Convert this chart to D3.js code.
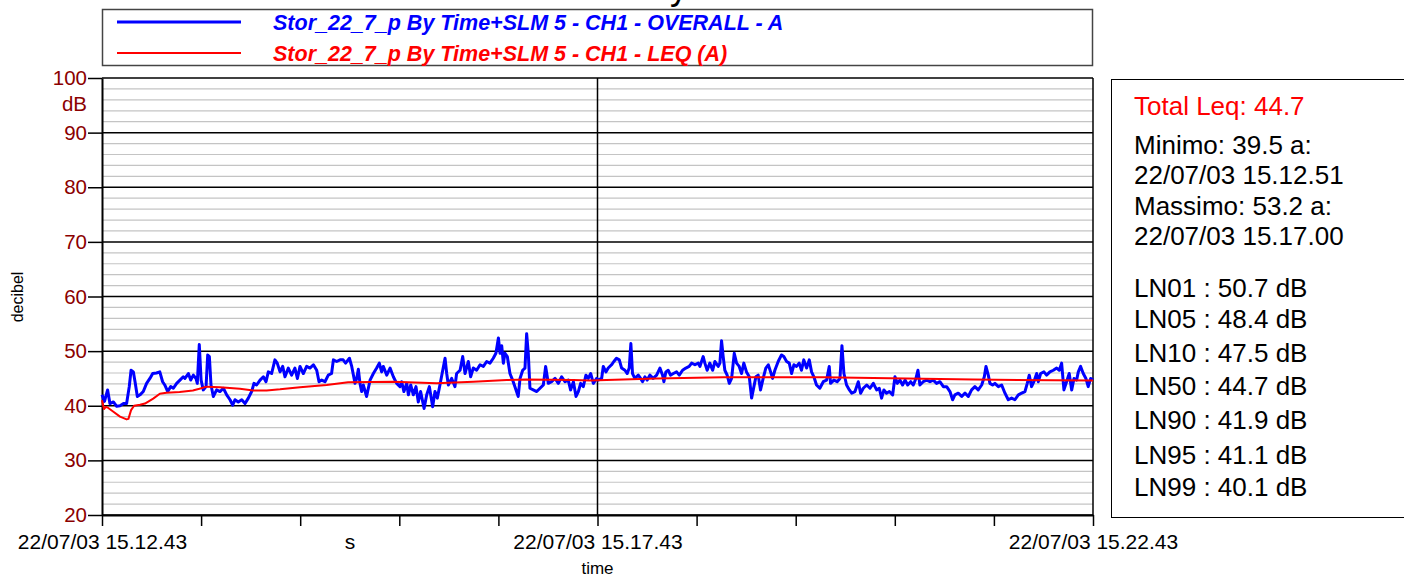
<!DOCTYPE html>
<html>
<head>
<meta charset="utf-8">
<script src="https://cdn.jsdelivr.net/npm/d3@7"></script>
<style>
  body { margin: 0; background: #fff; }
  svg { display: block; font-family: "Liberation Sans", Arial, sans-serif; }
</style>
</head>
<body>
<svg id="chart" width="1404" height="577"></svg>
<script>
// OVERALL - A, seconds from 15.12.43
const overallSec = [0,1.5,3.4,4.8,6.9,8.9,10.9,13,14.9,16.5,17.6,19,20,21.4,23,25,27,29,30.7,33,35,36.7,38,39.8,41.6,43.2,45.2,47.2,49.2,50.2,52.3,53.7,55.3,56.9,57.7,58.9,60,61.3,63,64,65,66,67.4,69.4,71.4,73.5,75.5,77.5,79.1,80.5,82.5,84.6,86.6,88.6,90.6,92,93.6,95.7,97.7,99.3,100.7,102.7,104.7,106.1,107.8,109.4,110.8,112.8,114.8,116.8,118.3,119.9,121.9,123.9,125.9,128,130,131.4,133,135,137,139,140.1,142.1,144.1,146,147.5,149.8,151.2,153.2,154.2,155.2,156.2,157.2,158.2,160.2,162.3,164.3,166.3,167.9,169.3,170.3,172.4,174.4,176.4,178.4,180.4,181.4,182.8,184.5,185.5,186.9,188.5,190.1,191.5,192.9,195,196.6,198.2,200.2,201.6,203,204.6,206.3,207.7,208.7,209.7,211.7,213.7,214.7,216.8,218.4,219.8,221.8,223.2,224.8,226.8,228.9,230.9,232.9,234.9,236.9,238.5,240,241,242,243,244,245.4,247,248.6,250,252,253.1,254.7,256.1,257.1,258.1,259.1,261.1,263.2,265.2,267.2,268.6,270.2,272.2,274.3,276.3,278.3,280.3,282.3,283.7,285.4,287,288.4,289.8,291.4,293,294.4,295.9,297.5,299.5,300.4,302.5,303.5,305.1,306.5,308.5,309.9,311.5,313.2,314.6,316.6,318,319.2,320.2,321.2,322.6,324.7,326.1,327.3,328.7,330.1,331.7,333.7,335.8,337.8,339.4,340.2,341.4,342.8,344.2,345.9,347.9,349.5,351.5,353.5,355.5,357,359,361,362,364,365,366.4,368,369.7,371.1,373.1,374.1,375.1,376.1,377.1,378.5,379.8,381.2,382.8,384.2,385.8,387.2,388.6,390.2,391.9,393.3,394.7,395.9,397.3,398.7,400.3,401.9,403.4,404.8,406,407.4,409.4,411.4,412.8,414.5,416.1,417.5,418.9,420.5,422.1,423.5,424.9,426.6,428.2,429.6,431,432.6,434.6,436.7,438.7,440.3,441.1,443.1,445.1,446.8,448,449.2,450.8,452.5,453.9,455.9,457.9,459.3,460.9,463,465,467,469,470.6,472,473.4,475,476.7,478.7,480.1,481.5,483.1,484.7,486.2,487.8,489.6,491.2,492.8,494,495.2,497.2,499.3,501.3,503.3,505.3,507.3,509.4,511.4,513.4,515,516.4,518.4,520.5,522.5,524.5,526.5,528.5,530.5,532.6,534.2,535.2,536.6,537.6,539.2,540.6,542.7,544.7,546.7,548.7,550.7,552.7,554.8,556.8,558.8,560.2,561.4,562.8,564.2,565.9,566.9,568.3,570.3,571.9,573.9,576,578,579.6,581,582.4,584,585.6,587.1,588.5,590.1,591.1,592.5,594.1,595.7,597.1,598.6,600];
const overallDb = [42.0,40.8,42.9,40.4,40.7,39.9,40.0,40.4,40.4,43.5,46.5,46.2,44.4,41.7,42.0,42.6,44.1,45.0,45.9,46.0,46.2,44.4,43.8,42.6,43.5,43.2,44.1,44.7,45.3,45.0,45.9,44.7,45.6,45.0,44.1,51.2,44.7,42.9,43.5,49.3,49.0,43.8,41.7,42.9,42.6,43.2,42.0,41.1,40.1,41.1,40.7,41.1,40.4,41.4,42.6,44.1,43.8,44.7,45.3,44.4,46.2,45.9,48.4,47.8,46.2,47.2,45.3,46.9,45.6,46.9,45.0,47.2,45.9,47.2,46.9,47.5,46.5,44.4,44.7,44.4,45.6,45.9,48.4,48.1,48.4,48.4,47.8,48.7,47.2,44.1,45.0,46.7,44.1,42.6,43.8,41.7,44.7,45.9,46.9,47.8,46.2,47.2,45.6,46.9,45.3,44.1,43.5,44.4,42.6,44.1,42.0,43.8,42.0,43.5,40.7,42.6,39.5,42.0,43.5,39.8,42.6,41.4,43.8,46.5,48.7,45.9,43.8,45.0,43.5,45.9,46.5,49.0,45.9,48.1,45.3,46.9,46.5,47.5,47.2,48.1,47.8,48.7,49.6,52.4,49.6,51.0,47.8,49.6,49.0,45.9,44.7,43.5,41.7,45.0,46.5,46.9,53.2,49.6,43.2,42.9,42.6,43.2,43.8,47.2,44.1,44.4,45.0,44.1,45.3,44.4,44.7,42.9,44.4,41.7,42.6,44.1,43.5,45.6,45.0,45.9,44.1,45.0,44.7,45.0,47.2,46.2,46.9,47.5,48.1,48.7,48.4,46.9,46.5,45.9,46.9,51.4,45.9,45.0,45.6,45.0,44.4,45.3,44.7,45.6,45.0,45.6,46.9,45.6,44.4,46.2,46.5,45.6,45.9,46.2,45.6,46.5,46.9,47.2,47.8,47.5,47.8,47.2,49.0,47.8,46.5,47.8,46.5,48.1,47.2,47.8,51.9,49.0,46.5,45.6,44.1,45.0,49.6,47.8,47.2,45.9,47.8,46.2,45.3,41.4,43.5,45.3,45.6,42.9,45.0,46.9,47.5,46.2,45.0,46.5,48.1,49.3,49.0,48.1,47.8,45.9,47.5,47.2,47.8,46.5,48.4,46.9,48.4,46.2,45.3,43.8,43.2,44.4,44.7,47.2,44.1,44.7,44.4,45.0,51.0,45.9,43.8,42.9,42.3,42.6,44.4,42.3,43.2,43.8,43.2,44.1,42.9,43.2,41.4,42.9,42.3,42.6,42.0,45.3,44.1,44.7,43.8,44.7,43.8,44.4,43.8,45.0,46.5,43.8,44.4,44.7,44.4,44.7,44.1,44.4,43.5,43.5,42.6,41.1,42.0,42.3,41.7,42.3,41.7,42.9,43.5,42.9,43.8,45.3,47.2,45.6,44.1,43.8,44.1,43.5,43.8,42.3,41.1,41.4,41.1,42.0,42.3,42.6,44.1,45.6,43.5,44.4,45.9,44.4,45.9,46.2,45.6,46.2,46.5,46.9,46.5,47.8,42.9,44.4,45.9,42.9,45.0,44.7,46.2,47.2,45.9,45.0,43.5,45.0,44.7];

// LEQ (A)
const leqSec = [0,1.2,2.4,3.8,6.9,10.9,14.9,16,17.6,19.4,23,26,31,35,39,47,55,59,63.3,71.4,83.5,91.6,99.7,107.8,119.9,136,149,176.4,202.6,224.8,245,257.1,285.4,295.4,335.8,376.1,436.7,487.2,527.5,600];
const leqDb = [41.0,39.4,39.8,39.6,38.9,38.0,37.5,37.6,39.2,40.0,40.2,40.4,41.3,42.2,42.4,42.5,42.8,43.1,43.5,43.4,43.1,42.8,42.8,43.0,43.4,43.8,44.3,44.4,44.1,44.4,44.7,44.8,44.7,44.6,45.0,45.2,45.2,45.0,44.8,44.6];

const yTicks = [20, 30, 40, 50, 60, 70, 80, 90, 100];
const xTickSec = [0, 60, 120, 180, 240, 300, 360, 420, 480, 540, 600];
const xTickLabels = { 0: "22/07/03 15.12.43", 300: "22/07/03 15.17.43", 600: "22/07/03 15.22.43" };
const legendLabels = [
  "Stor_22_7_p By Time+SLM 5 - CH1 - OVERALL - A",
  "Stor_22_7_p By Time+SLM 5 - CH1 - LEQ (A)"
];
const statsLines = [
  "Minimo: 39.5 a:", "22/07/03 15.12.51",
  "Massimo: 53.2 a:", "22/07/03 15.17.00"
];
const lnLines = [
  "LN01 : 50.7 dB", "LN05 : 48.4 dB", "LN10 : 47.5 dB", "LN50 : 44.7 dB",
  "LN90 : 41.9 dB", "LN95 : 41.1 dB", "LN99 : 40.1 dB"
];

const blue = "#0000ff", red = "#ff0000", tickRed = "#8b0000";
const plot = { left: 102, right: 1093, top: 78, bottom: 515 };

const svg = d3.select("#chart");
svg.append("rect").attr("width", 1404).attr("height", 577).attr("fill", "#fff");

const x = d3.scaleLinear().domain([0, 600]).range([plot.left, plot.right]);
const y = d3.scaleLinear().domain([20, 100]).range([plot.bottom, plot.top]);

// title (only its foot is visible)
svg.append("text").attr("x", 576).attr("y", -1)
  .attr("font-size", 36).text("History");

// legend
const lg = svg.append("g");
lg.append("rect").attr("x", 102.5).attr("y", 9.5).attr("width", 990).attr("height", 56)
  .attr("fill", "none").attr("stroke", "#444").attr("stroke-width", 1.5);
[[blue, 3, 22], [red, 2, 53]].forEach((s, i) => {
  lg.append("line").attr("x1", 117).attr("x2", 241).attr("y1", s[2]).attr("y2", s[2])
    .attr("stroke", s[0]).attr("stroke-width", s[1]);
  lg.append("text").attr("x", 273).attr("y", s[2] + 7.5)
    .attr("fill", s[0]).attr("font-size", 21.5).attr("font-weight", "bold")
    .attr("font-style", "italic").text(legendLabels[i]);
});

// minor grid
const minor = d3.range(22, 100, 2).filter(v => v % 10 !== 0);
svg.append("g").selectAll("line").data(minor).join("line")
  .attr("x1", plot.left).attr("x2", plot.right)
  .attr("y1", d => y(d)).attr("y2", d => y(d))
  .attr("stroke", "#c4c4c4").attr("stroke-width", 1.2);

// major grid
svg.append("g").selectAll("line").data(yTicks).join("line")
  .attr("x1", plot.left).attr("x2", plot.right)
  .attr("y1", d => y(d)).attr("y2", d => y(d))
  .attr("stroke", "#000").attr("stroke-width", 1.5);
svg.append("line").attr("x1", x(300)).attr("x2", x(300))
  .attr("y1", plot.top).attr("y2", plot.bottom)
  .attr("stroke", "#000").attr("stroke-width", 1.5);
svg.append("line").attr("x1", plot.right).attr("x2", plot.right)
  .attr("y1", plot.top).attr("y2", plot.bottom)
  .attr("stroke", "#000").attr("stroke-width", 1.5);

// axes
const yAxis = svg.append("g").attr("transform", `translate(${plot.left},0)`)
  .call(d3.axisLeft(y).tickValues(yTicks).tickSize(14).tickSizeOuter(0).tickPadding(1));
yAxis.select(".domain").attr("stroke-width", 2);
yAxis.selectAll(".tick line").attr("stroke-width", 1.5);
yAxis.selectAll("text").attr("fill", tickRed).attr("font-size", 20.5)
  .attr("font-family", "Liberation Sans, Arial, sans-serif");

svg.append("text").attr("x", 87).attr("y", 111).attr("text-anchor", "end")
  .attr("fill", tickRed).attr("font-size", 20.5).text("dB");

const xAxis = svg.append("g").attr("transform", `translate(0,${plot.bottom})`)
  .call(d3.axisBottom(x).tickValues(xTickSec).tickSize(11).tickSizeOuter(0).tickPadding(8)
    .tickFormat(d => xTickLabels[d] || ""));
xAxis.select(".domain").attr("stroke-width", 2);
xAxis.selectAll(".tick line").attr("stroke-width", 1.5);
xAxis.selectAll("text").attr("fill", "#000").attr("font-size", 21)
  .attr("font-family", "Liberation Sans, Arial, sans-serif");

svg.append("text").attr("x", 350).attr("y", 549).attr("text-anchor", "middle")
  .attr("font-size", 21).text("s");
svg.append("text").attr("x", x(300)).attr("y", 574).attr("text-anchor", "middle")
  .attr("font-size", 17).text("time");
svg.append("text").attr("transform", "translate(23,297) rotate(-90)")
  .attr("text-anchor", "middle").attr("font-size", 16).text("decibel");

// series
const line = d3.line().x(d => x(d[0])).y(d => y(d[1]));
svg.append("path").datum(d3.zip(overallSec, overallDb))
  .attr("d", line).attr("fill", "none").attr("stroke", blue)
  .attr("stroke-width", 3).attr("stroke-linejoin", "round");
svg.append("path").datum(d3.zip(leqSec, leqDb))
  .attr("d", line).attr("fill", "none").attr("stroke", red)
  .attr("stroke-width", 2).attr("stroke-linejoin", "round");

// stats panel
const sp = svg.append("g");
sp.append("rect").attr("x", 1111.5).attr("y", 79.5).attr("width", 300).attr("height", 438)
  .attr("fill", "#fff").attr("stroke", "#000").attr("stroke-width", 1);
sp.append("text").attr("x", 1134).attr("y", 115).attr("fill", red)
  .attr("font-size", 26).text("Total Leq: 44.7");
const statsY = [154, 184, 215, 245];
statsLines.forEach((t, i) => {
  sp.append("text").attr("x", 1134).attr("y", statsY[i]).attr("font-size", 26).text(t);
});
const lnY = [297, 328, 362, 395, 429, 464, 496];
lnLines.forEach((t, i) => {
  sp.append("text").attr("x", 1134).attr("y", lnY[i]).attr("font-size", 26).text(t);
});
</script>
</body>
</html>
